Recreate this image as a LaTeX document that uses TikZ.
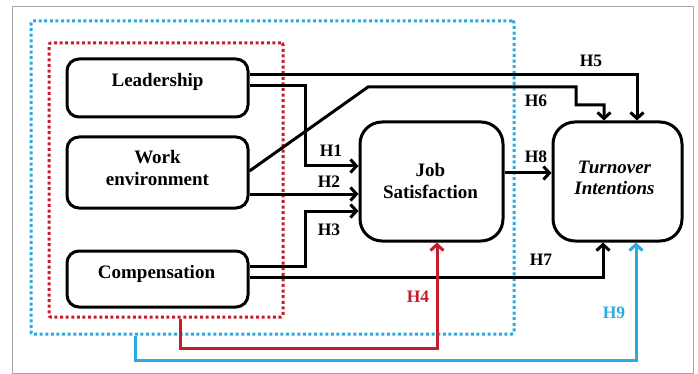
\documentclass[tikz,border=0pt]{standalone}
\usepackage{fontspec}
\setmainfont{Liberation Serif}
\usetikzlibrary{arrows.meta,calc}
\definecolor{myred}{RGB}{196,30,45}
\definecolor{myblue}{RGB}{41,171,226}
\begin{document}
\begin{tikzpicture}[x=1pt,y=-1pt,
  box/.style={draw, line width=3pt, rounded corners=12pt, inner sep=0pt},
  bigbox/.style={box, rounded corners=22pt},
  txt/.style={font=\fontsize{19}{21.5}\selectfont\bfseries, align=center, inner sep=0pt},
  conn/.style={line width=3pt, -{Straight Barb[length=6pt,width=13pt]}},
  hlab/.style={font=\fontsize{17.5}{19}\selectfont\bfseries, inner sep=0pt, anchor=base},
  grp/.style={line width=3pt, dash pattern=on 3pt off 2.6pt, rounded corners=2pt, inner sep=0pt}]
\useasboundingbox (0,0) rectangle (698,374);
\draw[gray!70, line width=1pt] (12,7) rectangle (693,373);
% groups
\node[grp, draw=myblue, minimum width=483pt, minimum height=313pt] (blueg) at (272.5,177.5) {};
\node[grp, draw=myred, minimum width=234pt, minimum height=274pt] (redg) at (166,180) {};
% boxes
\node[box, minimum width=181pt, minimum height=58pt] (lead) at (157.5,88) {};
\node[box, minimum width=181pt, minimum height=71pt] (work) at (157.5,172.5) {};
\node[box, minimum width=181pt, minimum height=56pt] (comp) at (157.5,279) {};
\node[bigbox, minimum width=143pt, minimum height=119pt] (job) at (431.5,181.5) {};
\node[bigbox, minimum width=129pt, minimum height=119pt] (turn) at (617.5,181.5) {};
% texts
\node[txt, anchor=base] (leadt) at (157.5,87) {Leadership};
\node[txt, anchor=north] (workt) at (157.5,150.5) {Work\\environment};
\node[txt, anchor=base] (compt) at (156.5,278) {Compensation};
\node[txt, anchor=north] (jobt) at (430.5,163.5) {Job\\Satisfaction};
\node[txt, anchor=north, font=\fontsize{19}{21.5}\selectfont\bfseries\itshape] (turnt) at (614.5,160.5) {Turnover\\Intentions};
% helper coordinates
\coordinate (c1) at (305,0);
\coordinate (j1) at ([yshift=15.5pt]job.west);
\coordinate (j3) at ([yshift=-29.5pt]job.west);
\coordinate (k6a) at (368,87);
\coordinate (k6b) at (576,105);
\coordinate (k4) at (437,348);
\coordinate (k9) at (636,360);
% connectors
\draw[conn] ([yshift=13pt]lead.east) -| ([xshift=19.5pt]turn.north);
\draw[conn] ([yshift=2pt]lead.east) -| (c1 |- j1) -- (j1);
\draw[conn] ([yshift=-21.5pt]work.east) -- ([yshift=-12.5pt]job.west);
\draw[conn] ([yshift=13pt]comp.east) -| (c1 |- j3) -- (j3);
\draw[conn] ([yshift=1.5pt]work.east) -- (k6a) -| (k6b) -| ([xshift=-13.5pt]turn.north);
\draw[conn] ([yshift=2pt]comp.east) -| ([xshift=-14.5pt]turn.south);
\draw[conn] ([yshift=8.5pt]job.east) -- ([yshift=8.5pt]turn.west);
\draw[conn, myred] ([xshift=14pt]redg.south) |- (k4) -- ([xshift=5.5pt]job.south);
\draw[conn, myblue] ([xshift=-137.5pt]blueg.south) |- (k9) -- ([xshift=18.5pt]turn.south);
% labels
\node[hlab] (h5) at (591,67) {H5};
\node[hlab] (h6) at (536,107) {H6};
\node[hlab] (h8) at (536,163) {H8};
\node[hlab] (h1) at (331,157) {H1};
\node[hlab] (h2) at (329,187) {H2};
\node[hlab] (h3) at (329,235) {H3};
\node[hlab] (h7) at (541,265) {H7};
\node[hlab, text=myred] (h4) at (418,302) {H4};
\node[hlab, text=myblue] (h9) at (614,318) {H9};
\end{tikzpicture}
\end{document}
